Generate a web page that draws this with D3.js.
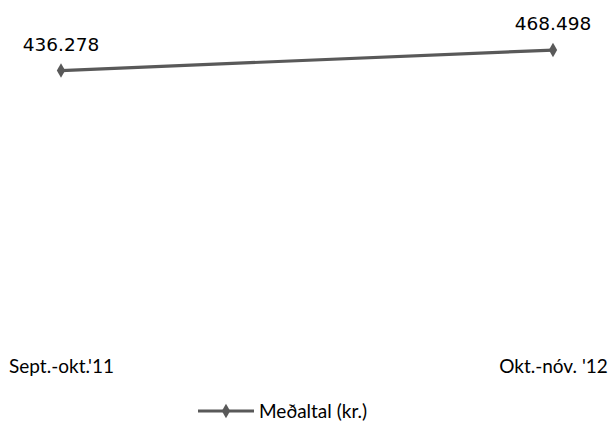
<!DOCTYPE html>
<html>
<head>
<meta charset="utf-8">
<script src="https://cdn.jsdelivr.net/npm/d3@7"></script>
<style>
  html, body { margin: 0; padding: 0; background: #fff; }
  svg { display: block; }
</style>
</head>
<body>
<div id="chart"></div>
<script>
const categories = ["Sept.-okt.'11", "Okt.-nóv. '12"];
const values = [436278, 468498];
const valueLabels = ["436.278", "468.498"];
const seriesName = "Meðaltal (kr.)";

const W = 611, H = 448;
const lineColor = "#595959";

const svg = d3.select("#chart").append("svg")
  .attr("width", W).attr("height", H);

const x = d3.scalePoint().domain(categories).range([61, 553]);
const y = d3.scaleLinear().domain([0, 500000]).range([348, 30]);

const line = d3.line()
  .x((d, i) => x(categories[i]))
  .y(d => y(d));

svg.append("path")
  .datum(values)
  .attr("fill", "none")
  .attr("stroke", lineColor)
  .attr("stroke-width", 3.2)
  .attr("d", line);

const diamond = d3.symbol().type(d3.symbolDiamond).size(60);

svg.selectAll(".pt").data(values).enter().append("path")
  .attr("class", "pt")
  .attr("d", diamond)
  .attr("fill", lineColor)
  .attr("transform", (d, i) => `translate(${x(categories[i])},${y(d)})`);

svg.selectAll(".vlab").data(values).enter().append("text")
  .attr("class", "vlab")
  .attr("x", (d, i) => x(categories[i]))
  .attr("y", d => y(d) - 20)
  .attr("text-anchor", "middle")
  .attr("font-family", "DejaVu Sans")
  .attr("font-size", 18.5)
  .attr("fill", "#000")
  .text((d, i) => valueLabels[i]);

// x axis (labels only)
const xAxis = d3.axisBottom(x).tickSize(0).tickPadding(0);
const gx = svg.append("g").attr("transform", "translate(0,359)").call(xAxis);
gx.select(".domain").remove();
gx.selectAll("text")
  .attr("font-family", "Lato")
  .attr("font-size", 19)
  .attr("fill", "#000")
  .attr("dy", "0.71em");

// legend
const lg = svg.append("g").attr("transform", "translate(198,411)");
lg.append("line").attr("x1", 0).attr("x2", 56).attr("y1", 0).attr("y2", 0)
  .attr("stroke", lineColor).attr("stroke-width", 3.2);
lg.append("path").attr("d", diamond).attr("fill", lineColor)
  .attr("transform", "translate(28,0)");
lg.append("text").attr("x", 61).attr("y", 0).attr("dy", "0.35em")
  .attr("font-family", "Lato").attr("font-size", 19).attr("fill", "#000")
  .text(seriesName);
</script>
</body>
</html>
